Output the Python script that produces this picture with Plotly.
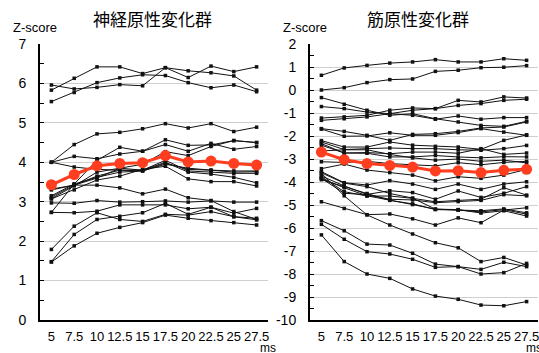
import plotly.graph_objects as go

x_labels = ["5", "7.5", "10", "12.5", "15", "17.5", "20", "22.5", "25", "27.5"]
neuro_ticks = [0, 1, 2, 3, 4, 5, 6, 7]
myo_ticks = [2, 1, 0, -1, -2, -3, -4, -5, -6, -7, -8, -9, -10]

neuro_title = "神経原性変化群"
myo_title = "筋原性変化群"

neuro_lines = [
    [5.83, 6.13, 6.42, 6.42, 6.25, 6.40, 6.32, 6.27, 6.19, 5.83],
    [5.96, 5.86, 5.90, 5.97, 5.94, 6.40, 6.15, 6.44, 6.30, 6.42],
    [5.54, 5.77, 6.02, 6.14, 6.22, 6.20, 6.02, 5.89, 5.96, 5.79],
    [4.00, 4.45, 4.72, 4.76, 4.85, 4.98, 4.87, 4.98, 4.78, 4.89],
    [2.73, 3.45, 4.05, 4.38, 4.28, 4.57, 4.43, 4.44, 4.55, 4.50],
    [4.00, 4.15, 4.09, 4.21, 4.28, 4.45, 4.28, 4.48, 4.33, 4.40],
    [3.08, 3.40, 3.75, 3.85, 3.95, 4.27, 4.17, 4.40, 4.55, 4.50],
    [4.00, 3.88, 3.82, 3.80, 3.78, 3.98, 3.82, 3.80, 3.78, 3.78],
    [3.12, 3.42, 3.65, 3.80, 3.80, 4.05, 3.78, 3.75, 3.72, 3.72],
    [3.07, 3.30, 3.55, 3.65, 3.82, 3.90, 3.58, 3.51, 3.51, 3.40],
    [3.15, 3.45, 3.62, 3.75, 3.78, 3.95, 3.85, 3.80, 3.75, 3.76],
    [3.32, 3.42, 3.60, 3.85, 3.80, 4.00, 3.75, 3.70, 3.62, 3.48],
    [2.97, 2.96, 3.03, 2.99, 3.00, 3.02, 2.99, 3.02, 2.99, 2.99],
    [3.30, 3.42, 3.42, 3.35, 3.20, 3.32, 3.10, 3.03, 2.75, 2.55],
    [2.73, 2.72, 2.76, 2.92, 2.92, 2.92, 2.82, 2.86, 2.71, 2.83],
    [1.79, 2.38, 2.72, 2.55, 2.50, 2.68, 2.66, 2.75, 2.62, 2.58],
    [1.48, 2.17, 2.55, 2.63, 2.72, 2.96, 2.68, 2.86, 2.62, 2.54],
    [1.47, 1.88, 2.20, 2.35, 2.47, 2.66, 2.58, 2.52, 2.47, 2.41],
]
neuro_mean = [3.43, 3.69, 3.91, 3.97, 3.99, 4.17, 4.01, 4.03, 3.97, 3.93]

myo_lines = [
    [0.64, 0.96, 1.07, 1.17, 1.22, 1.32, 1.22, 1.22, 1.36, 1.29],
    [0.00, 0.10, 0.32, 0.45, 0.48, 0.81, 0.86, 0.97, 0.99, 1.06],
    [-0.33, -0.62, -0.88, -1.10, -1.03, -1.25, -1.39, -1.54, -1.58, -1.36],
    [-0.72, -0.81, -0.96, -1.03, -1.10, -1.27, -1.13, -1.27, -1.20, -1.20],
    [-1.22, -1.17, -1.10, -0.88, -0.78, -0.81, -0.45, -0.52, -0.30, -0.35],
    [-1.32, -1.25, -1.17, -1.03, -0.88, -0.81, -0.67, -0.59, -0.45, -0.40],
    [-1.68, -1.80, -1.97, -2.19, -1.93, -1.90, -1.80, -1.65, -1.61, -1.39],
    [-1.70, -2.01, -2.00, -1.86, -1.97, -1.97, -1.85, -1.68, -1.83, -1.97],
    [-2.20, -2.48, -2.48, -2.26, -2.40, -2.45, -2.48, -2.58, -2.19, -1.95],
    [-2.26, -2.59, -2.55, -2.52, -2.55, -2.55, -2.60, -2.62, -2.55, -2.41],
    [-2.33, -2.74, -2.72, -2.77, -2.70, -2.70, -2.75, -2.55, -2.80, -2.74],
    [-2.40, -2.74, -2.75, -2.91, -2.91, -2.85, -2.91, -2.95, -2.90, -2.91],
    [-2.65, -2.60, -2.60, -2.80, -2.95, -3.05, -3.00, -3.10, -3.05, -3.17],
    [-3.42, -3.22, -3.48, -3.59, -3.70, -3.95, -3.77, -3.84, -3.70, -3.45],
    [-3.12, -3.15, -3.10, -3.20, -3.25, -3.30, -3.16, -3.25, -3.15, -3.10],
    [-3.55, -4.03, -4.13, -3.94, -4.09, -4.32, -4.09, -4.32, -4.09, -3.99],
    [-3.74, -4.17, -4.54, -4.38, -4.46, -4.75, -4.39, -4.67, -4.49, -4.20],
    [-3.77, -4.42, -4.61, -4.61, -4.71, -4.86, -4.80, -4.75, -4.25, -4.57],
    [-3.84, -4.49, -4.55, -4.75, -4.78, -4.90, -4.85, -4.80, -4.55, -4.60],
    [-3.90, -4.20, -4.50, -4.80, -4.95, -5.20, -5.22, -5.30, -5.20, -5.40],
    [-3.85, -4.25, -4.60, -4.78, -4.98, -5.18, -5.20, -5.35, -5.25, -5.48],
    [-3.60, -4.05, -4.20, -4.50, -4.70, -5.18, -5.22, -5.25, -5.17, -5.34],
    [-4.86, -5.15, -5.42, -5.39, -5.60, -5.87, -5.56, -5.77, -5.22, -5.12],
    [-3.62, -4.60, -5.43, -5.87, -6.26, -6.64, -6.86, -7.46, -7.28, -7.61],
    [-5.68, -6.12, -6.70, -6.74, -7.10, -7.57, -7.68, -7.80, -7.49, -7.68],
    [-5.84, -6.49, -7.03, -7.13, -7.36, -7.71, -7.68, -8.00, -7.94, -7.54],
    [-6.30, -7.46, -8.00, -8.19, -8.65, -8.96, -9.10, -9.35, -9.38, -9.20],
]
myo_mean = [-2.70, -3.03, -3.20, -3.28, -3.35, -3.52, -3.51, -3.59, -3.49, -3.45]

W, H = 539, 353
LAT = "Liberation Sans, Arial, Helvetica, sans-serif"
CJK = "Noto Sans CJK JP, sans-serif"
RED = "#ff3d1f"

fig = go.Figure()

def add_panel(lines, mean, xa, ya):
    for s in lines:
        fig.add_trace(go.Scatter(
            x=x_labels, y=s, mode="lines+markers", xaxis=xa, yaxis=ya,
            line=dict(color="#111111", width=1),
            marker=dict(color="#111111", size=3.5, symbol="square"),
            showlegend=False, hoverinfo="skip", cliponaxis=False))
    fig.add_trace(go.Scatter(
        x=x_labels, y=mean, mode="lines+markers", xaxis=xa, yaxis=ya,
        line=dict(color=RED, width=3),
        marker=dict(color=RED, size=11),
        showlegend=False, hoverinfo="skip"))

add_panel(neuro_lines, neuro_mean, "x", "y")
add_panel(myo_lines, myo_mean, "x2", "y2")

ydom = [(H - 320) / H, (H - 44) / H]

xcommon = dict(type="category", range=[-0.5, 9.5], showgrid=False,
               showline=True, linecolor="black", linewidth=2,
               ticks="", tickfont=dict(family=LAT, size=13, color="black"),
               ticklabelstandoff=3, zeroline=False, fixedrange=True,
               automargin=False)
ycommon = dict(showgrid=True, gridcolor="#cfcfcf", gridwidth=1,
               showline=True, linecolor="black", linewidth=2,
               ticks="inside", ticklen=4, tickcolor="black",
               minor=dict(ticks="inside", ticklen=4, dtick=0.5,
                          tickcolor="black", showgrid=False),
               tickfont=dict(family=LAT, size=14, color="black"),
               ticklabelstandoff=9, zeroline=False, fixedrange=True,
               automargin=False)

fig.update_layout(
    width=W, height=H,
    margin=dict(l=0, r=0, t=0, b=0, autoexpand=False),
    paper_bgcolor="white", plot_bgcolor="white",
    xaxis=dict(domain=[40 / W, 268 / W], anchor="y", **xcommon),
    yaxis=dict(domain=ydom, anchor="x", range=[0, 7],
               tickvals=neuro_ticks, ticktext=[str(t) for t in neuro_ticks], **ycommon),
    xaxis2=dict(domain=[310 / W, 538 / W], anchor="y2", **xcommon),
    yaxis2=dict(domain=ydom, anchor="x2", range=[-10, 2],
                tickvals=myo_ticks, ticktext=[str(t) for t in myo_ticks], **ycommon),
)

annots = [
    dict(text=neuro_title, x=152 / W, y=(H - 19) / H, font=dict(family=CJK, size=17, color="black")),
    dict(text=myo_title, x=418 / W, y=(H - 19) / H, font=dict(family=CJK, size=17, color="black")),
    dict(text="Z-score", x=35 / W, y=(H - 28) / H, font=dict(family=LAT, size=13, color="black")),
    dict(text="Z-score", x=305 / W, y=(H - 28) / H, font=dict(family=LAT, size=13, color="black")),
    dict(text="ms", x=258 / W, y=(H - 348) / H, xanchor="left", font=dict(family=LAT, size=12, color="black")),
    dict(text="ms", x=524 / W, y=(H - 348) / H, xanchor="left", font=dict(family=LAT, size=12, color="black")),
]
for a in annots:
    a.setdefault("xanchor", "center")
    fig.add_annotation(xref="paper", yref="paper", showarrow=False,
                       yanchor="middle", **a)

fig.write_html(
    "out.html",
    config={"displayModeBar": False, "staticPlot": True},
    post_script="document.body.style.margin='0';document.body.style.padding='0';document.body.style.overflow='hidden';",
)
